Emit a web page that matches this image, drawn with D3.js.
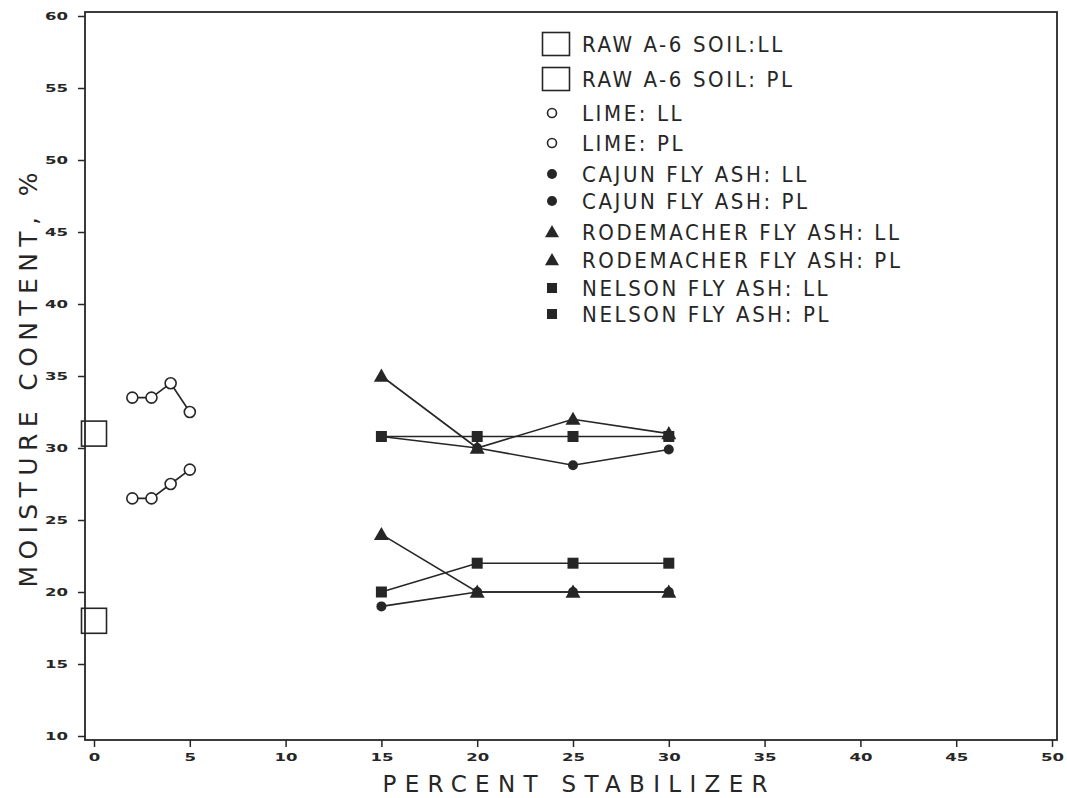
<!DOCTYPE html>
<html>
<head>
<meta charset="utf-8">
<script src="https://cdn.jsdelivr.net/npm/d3@7"></script>
<style>
  html, body { margin: 0; padding: 0; background: #fff; }
  svg { display: block; }
</style>
</head>
<body>
<svg id="chart" width="1067" height="798"></svg>
<script>
// Atterberg limits of the A-6 soil vs. stabilizer content
const xTicks = [0, 5, 10, 15, 20, 25, 30, 35, 40, 45, 50];
const yTicks = [10, 15, 20, 25, 30, 35, 40, 45, 50, 55, 60];

const rawX = [0];
const rawLL = [31];
const rawPL = [18];

const limeX = [2, 3, 4, 5];
const limeLL = [33.5, 33.5, 34.5, 32.5];
const limePL = [26.5, 26.5, 27.5, 28.5];

const flyX = [15, 20, 25, 30];
const cajunLL = [30.8, 30, 28.8, 29.9];
const cajunPL = [19, 20, 20, 20];
const rodeLL = [35, 30, 32, 31];
const rodePL = [24, 20, 20, 20];
const nelsonLL = [30.8, 30.8, 30.8, 30.8];
const nelsonPL = [20, 22, 22, 22];

const legendLabels = [
  "RAW A-6 SOIL:LL", "RAW A-6 SOIL: PL",
  "LIME: LL", "LIME: PL",
  "CAJUN FLY ASH: LL", "CAJUN FLY ASH: PL",
  "RODEMACHER FLY ASH: LL", "RODEMACHER FLY ASH: PL",
  "NELSON FLY ASH: LL", "NELSON FLY ASH: PL"
];
const legendKinds = ["box", "box", "ring", "ring", "dot", "dot", "tri", "tri", "sq", "sq"];

const ink = "#262626";
const svg = d3.select("#chart");

const x = d3.scaleLinear().domain([0, 50]).range([94, 1052]);
const y = d3.scaleLinear().domain([10, 60]).range([736, 16]);

const frame = { left: 85, top: 12, right: 1057, bottom: 740 };

// plot frame
svg.append("rect")
  .attr("x", frame.left).attr("y", frame.top)
  .attr("width", frame.right - frame.left)
  .attr("height", frame.bottom - frame.top)
  .attr("fill", "none").attr("stroke", ink).attr("stroke-width", 1.8);

// axes
function styleTicks(g) {
  g.select(".domain").remove();
  g.selectAll(".tick line").attr("stroke", ink).attr("stroke-width", 1.5);
  g.selectAll(".tick text")
    .attr("fill", ink)
    .style("font-family", "'DejaVu Sans', sans-serif")
    .style("font-weight", "bold")
    .style("font-size", "11px")
    .attr("textLength", d => String(d).length * 11.5)
    .attr("lengthAdjust", "spacingAndGlyphs");
}

svg.append("g")
  .attr("transform", `translate(${frame.left},0)`)
  .call(d3.axisLeft(y).tickValues(yTicks).tickSize(7).tickPadding(10))
  .call(styleTicks);

svg.append("g")
  .attr("transform", `translate(0,${frame.bottom})`)
  .call(d3.axisBottom(x).tickValues(xTicks).tickSize(7).tickPadding(6))
  .call(styleTicks);

// axis titles
svg.append("text")
  .attr("x", 575).attr("y", 792)
  .attr("text-anchor", "middle")
  .attr("textLength", 385).attr("lengthAdjust", "spacing")
  .attr("fill", ink)
  .style("font-family", "'DejaVu Sans', sans-serif")
  .style("font-size", "23px")
  .text("PERCENT STABILIZER");

svg.append("text")
  .attr("transform", "translate(37,380) rotate(-90)")
  .attr("text-anchor", "middle")
  .attr("textLength", 415).attr("lengthAdjust", "spacing")
  .attr("fill", ink)
  .style("font-family", "'DejaVu Sans', sans-serif")
  .style("font-size", "25px")
  .text("MOISTURE CONTENT, %");

// marker shapes
function marker(g, kind, cx, cy, legend) {
  if (kind === "box") {
    const w = legend ? 27 : 25, h = legend ? 23 : 25;
    g.append("rect").attr("x", cx - w / 2).attr("y", cy - h / 2)
      .attr("width", w).attr("height", h)
      .attr("fill", "none").attr("stroke", ink).attr("stroke-width", 1.6);
  } else if (kind === "ring") {
    g.append("circle").attr("cx", cx).attr("cy", cy).attr("r", legend ? 4.5 : 5.5)
      .attr("fill", "#fff").attr("stroke", ink).attr("stroke-width", 1.6);
  } else if (kind === "dot") {
    g.append("circle").attr("cx", cx).attr("cy", cy).attr("r", 5)
      .attr("fill", ink);
  } else if (kind === "tri") {
    const s = legend ? 7 : 7.5;
    g.append("path")
      .attr("d", `M${cx},${cy - s}L${cx + s},${cy + s * 0.75}L${cx - s},${cy + s * 0.75}Z`)
      .attr("fill", ink);
  } else if (kind === "sq") {
    const s = legend ? 10 : 11;
    g.append("rect").attr("x", cx - s / 2).attr("y", cy - s / 2)
      .attr("width", s).attr("height", s).attr("fill", ink);
  }
}

const line = d3.line().x(d => x(d.x)).y(d => y(d.y));

const series = [
  { xs: rawX, ys: rawLL, kind: "box" },
  { xs: rawX, ys: rawPL, kind: "box" },
  { xs: limeX, ys: limeLL, kind: "ring" },
  { xs: limeX, ys: limePL, kind: "ring" },
  { xs: flyX, ys: cajunLL, kind: "dot" },
  { xs: flyX, ys: cajunPL, kind: "dot" },
  { xs: flyX, ys: rodeLL, kind: "tri" },
  { xs: flyX, ys: rodePL, kind: "tri" },
  { xs: flyX, ys: nelsonLL, kind: "sq" },
  { xs: flyX, ys: nelsonPL, kind: "sq" }
];

const plot = svg.append("g");
series.forEach(s => {
  const pts = s.xs.map((v, i) => ({ x: v, y: s.ys[i] }));
  if (pts.length > 1) {
    plot.append("path").attr("d", line(pts))
      .attr("fill", "none").attr("stroke", ink).attr("stroke-width", 1.6);
  }
});
// cajun first, then nelson, then rodemacher on top
const order = [0, 1, 2, 3, 4, 5, 8, 9, 6, 7];
order.forEach(k => {
  const s = series[k];
  s.xs.forEach((v, i) => marker(plot, s.kind, x(v), y(s.ys[i]), false));
});

// legend
const legendY = [44, 79, 113, 143, 174, 201, 232, 260, 288, 314];
const leg = svg.append("g");
legendLabels.forEach((lab, i) => {
  const mx = legendKinds[i] === "box" ? 556 : 552;
  marker(leg, legendKinds[i], mx, legendY[i], true);
  leg.append("text")
    .attr("x", 582).attr("y", legendY[i])
    .attr("dy", "0.36em")
    .attr("fill", ink)
    .style("font-family", "'DejaVu Sans Condensed', 'Liberation Sans Narrow', sans-serif")
    .style("font-size", "22px")
    .style("letter-spacing", "2.6px")
    .text(lab);
});
</script>
</body>
</html>
